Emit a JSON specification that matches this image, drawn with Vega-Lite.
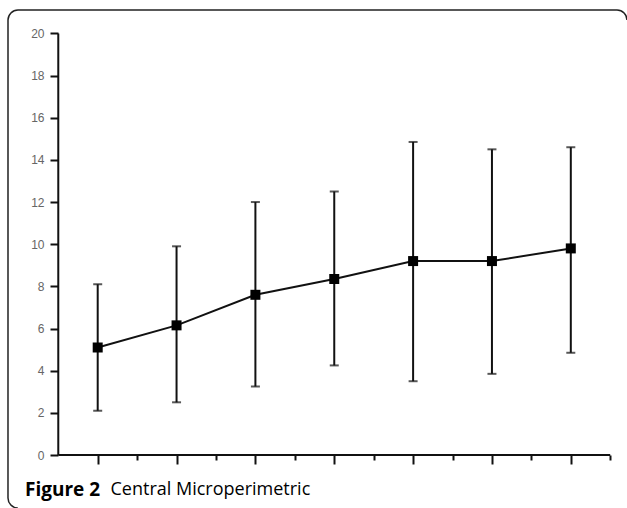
{
  "$schema": "https://vega.github.io/schema/vega-lite/v6.json",
  "width": 619,
  "height": 498,
  "autosize": {"type": "none"},
  "padding": {"left": 8, "top": 10, "right": 0, "bottom": 0},
  "background": "white",
  "config": {
    "view": {
      "stroke": "#222",
      "strokeWidth": 1.5,
      "cornerRadius": 10,
      "fill": "white",
      "strokeDash": [614.7, 1092.7, 509.4]
    },
    "font": "Liberation Sans"
  },
  "title": {
    "text": "Figure 2",
    "orient": "top",
    "anchor": "start",
    "frame": "group",
    "offset": 0,
    "dx": 17,
    "dy": 505,
    "baseline": "alphabetic",
    "font": "Open Sans",
    "fontSize": 19,
    "fontWeight": "bold",
    "color": "#000"
  },
  "data": {
    "values": [
      {"t": 1, "mean": 5.1, "lo": 2.1, "hi": 8.1},
      {"t": 2, "mean": 6.15, "lo": 2.5, "hi": 9.9},
      {"t": 3, "mean": 7.6, "lo": 3.25, "hi": 12.0},
      {"t": 4, "mean": 8.35, "lo": 4.25, "hi": 12.5},
      {"t": 5, "mean": 9.2, "lo": 3.5, "hi": 14.85},
      {"t": 6, "mean": 9.2, "lo": 3.85, "hi": 14.5},
      {"t": 7, "mean": 9.8, "lo": 4.85, "hi": 14.6}
    ]
  },
  "layer": [
    {
      "mark": {"type": "line", "color": "#111", "strokeWidth": 2},
      "encoding": {
        "x": {
          "field": "t",
          "type": "quantitative",
          "scale": {"domain": [-0.1376, 7.7127], "nice": false, "zero": false},
          "axis": {
            "orient": "bottom",
            "offset": -53,
            "domain": false,
            "grid": false,
            "values": [1, 1.5, 2, 2.5, 3, 3.5, 4, 4.5, 5, 5.5, 6, 6.5, 7, 7.5],
            "labels": false,
            "tickSize": {"condition": {"test": "datum.value % 1 == 0", "value": 9}, "value": 5},
            "tickWidth": 2,
            "tickColor": "#111",
            "title": "Central Microperimetric",
            "titleX": 102,
            "titleY": 39,
            "titleAlign": "left",
            "titleBaseline": "alphabetic",
            "titleFont": "Open Sans",
            "titleFontSize": 18,
            "titleFontWeight": "normal",
            "titleColor": "#000"
          }
        },
        "y": {
          "field": "mean",
          "type": "quantitative",
          "scale": {"domain": [-2.514, 21.11], "nice": false, "zero": false},
          "axis": {
            "orient": "left",
            "offset": -50,
            "domain": false,
            "grid": false,
            "values": [0, 1, 2, 3, 4, 5, 6, 7, 8, 9, 10, 11, 12, 13, 14, 15, 16, 17, 18, 19, 20],
            "labelExpr": "datum.value % 2 == 0 ? datum.label : ''",
            "tickSize": {"condition": {"test": "datum.value % 2 == 0", "value": 8}, "value": 5},
            "tickWidth": 2,
            "tickColor": "#111",
            "labelFontSize": 12,
            "labelColor": "#666",
            "labelPadding": 6,
            "title": null
          }
        }
      }
    },
    {
      "mark": {
        "type": "errorbar",
        "color": "#111",
        "thickness": 2,
        "ticks": {"size": 9, "thickness": 2, "color": "#111"}
      },
      "encoding": {
        "x": {"field": "t", "type": "quantitative"},
        "y": {"field": "lo", "type": "quantitative"},
        "y2": {"field": "hi"}
      }
    },
    {
      "mark": {"type": "square", "size": 100, "color": "#000", "opacity": 1, "filled": true},
      "encoding": {
        "x": {"field": "t", "type": "quantitative"},
        "y": {"field": "mean", "type": "quantitative"}
      }
    },
    {
      "data": {"values": [{"axis": "y"}]},
      "mark": {"type": "rule", "color": "#111", "strokeWidth": 2},
      "encoding": {
        "x": {"datum": 0.5, "type": "quantitative"},
        "y": {"datum": 0, "type": "quantitative"},
        "y2": {"datum": 20}
      }
    },
    {
      "data": {"values": [{"axis": "x"}]},
      "mark": {"type": "rule", "color": "#111", "strokeWidth": 2},
      "encoding": {
        "y": {"datum": 0, "type": "quantitative"},
        "x": {"datum": 0.5, "type": "quantitative"},
        "x2": {"datum": 7.5}
      }
    }
  ]
}
